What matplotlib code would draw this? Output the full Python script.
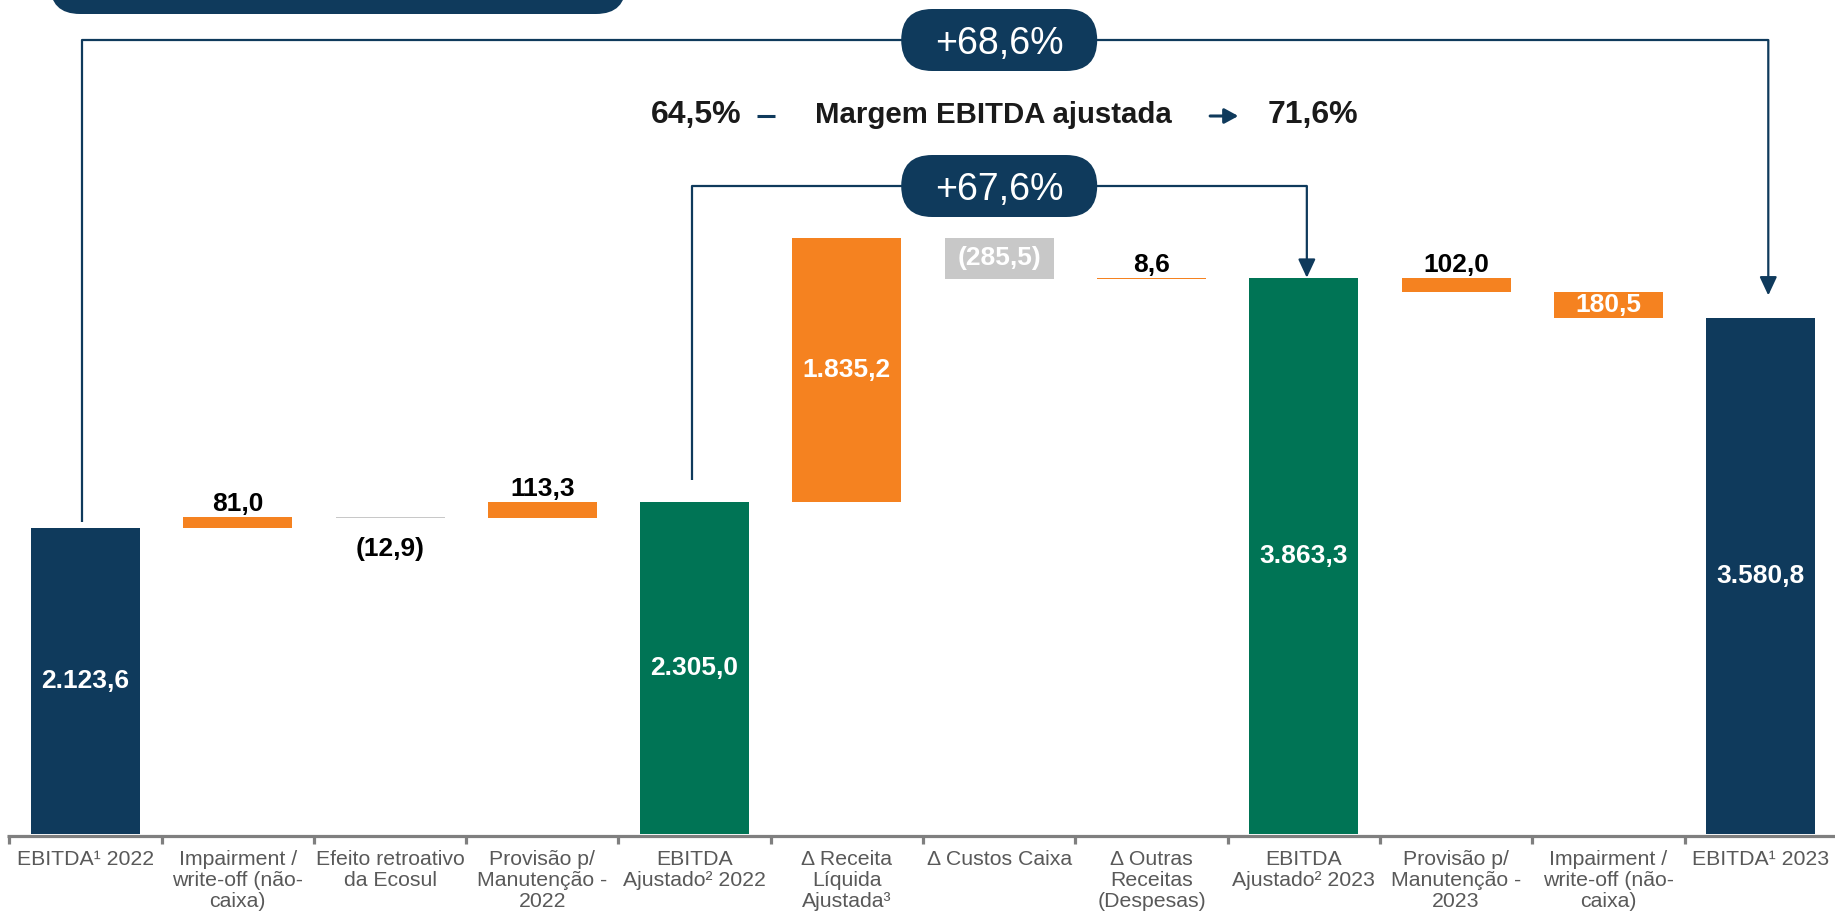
import matplotlib
matplotlib.use("Agg")
import matplotlib.pyplot as plt
from matplotlib.patches import FancyBboxPatch

plt.rcParams['font.family'] = ['Liberation Sans', 'DejaVu Sans']

# Ponte do EBITDA 2022 -> 2023 (R$ milhões)
categorias = [
    "EBITDA¹ 2022",
    "Impairment /\nwrite-off (não-\ncaixa)",
    "Efeito retroativo\nda Ecosul",
    "Provisão p/\nManutenção -\n2022",
    "EBITDA\nAjustado² 2022",
    "Δ Receita\nLíquida\nAjustada³",
    "Δ Custos Caixa",
    "Δ Outras\nReceitas\n(Despesas)",
    "EBITDA\nAjustado² 2023",
    "Provisão p/\nManutenção -\n2023",
    "Impairment /\nwrite-off (não-\ncaixa)",
    "EBITDA¹ 2023",
]
valores = [2123.6, 81.0, -12.9, 113.3, 2305.0, 1835.2, -285.5, 8.6, 3863.3, -102.0, -180.5, 3580.8]
total = [True, False, False, False, True, False, False, False, True, False, False, True]

variacao_total = "+68,6%"
variacao_ajustada = "+67,6%"
margem_2022 = "64,5%"
margem_2023 = "71,6%"

# estilo
AZUL = '#0f3a5c'
VERDE = '#007455'
LARANJA = '#f58220'
CINZA = '#c8c8c8'
cores = [AZUL, LARANJA, CINZA, LARANJA, VERDE, LARANJA, CINZA, LARANJA, VERDE, LARANJA, LARANJA, AZUL]
pos_rotulo = ['in', 'up', 'down', 'up', 'in', 'in', 'in', 'up', 'in', 'up', 'in', 'in']

W, H = 1835, 918
fig = plt.figure(figsize=(W / 100, H / 100), dpi=100)
ax = fig.add_axes([0, 0, 1, 1])
XMIN, XMAX = -0.561, 11.488
YMIN, YMAX = -583, 5792
ax.set_xlim(XMIN, XMAX)
ax.set_ylim(YMIN, YMAX)
ax.axis('off')

PX_X = (XMAX - XMIN) / W
PX_Y = (YMAX - YMIN) / H
ASP = PX_Y / PX_X


def fmt(v):
    s = f"{abs(v):,.1f}"
    return s.replace(",", "X").replace(".", ",").replace("X", ".")


# calcula base e altura de cada barra
bases, alturas = [], []
nivel = 0.0
for v, t in zip(valores, total):
    if t:
        bases.append(0)
        alturas.append(v)
        nivel = v
    else:
        bases.append(nivel if v >= 0 else nivel + v)
        alturas.append(abs(v))
        nivel += v

x = list(range(len(valores)))
ax.bar(x, alturas, bottom=bases, width=0.716, color=cores, zorder=2)

for i, v in enumerate(valores):
    txt = fmt(v)
    # itens antes do EBITDA ajustado 2023 mostram redução entre parênteses
    if v < 0 and i < 8:
        txt = f"({txt})"
    topo = bases[i] + alturas[i]
    if pos_rotulo[i] == 'in':
        ax.text(i, bases[i] + alturas[i] / 2, txt, ha='center', va='center',
                color='white', fontsize=19, fontweight='bold', zorder=3)
    elif pos_rotulo[i] == 'up':
        ax.text(i, topo + 6 * PX_Y, txt, ha='center', va='baseline',
                color='black', fontsize=19, fontweight='bold', zorder=3)
    else:
        ax.text(i, bases[i] - 19 * PX_Y, txt, ha='center', va='top',
                color='black', fontsize=19, fontweight='bold', zorder=3)

# eixo horizontal com marcas entre categorias
y_eixo = -1.5 * PX_Y
ax.hlines(y_eixo, -0.5 - 0.015, XMAX, color='#7f7f7f', lw=2.3, zorder=1)
for i in range(len(valores) + 1):
    ax.vlines(i - 0.5, y_eixo, y_eixo - 8 * PX_Y, color='#7f7f7f', lw=2.3)

for i, c in enumerate(categorias):
    ax.text(i, -16 * PX_Y, c, ha='center', va='top', color='#595959',
            fontsize=15.3, linespacing=1.13)


def colchete(x0, y0, x1, y1, y_top, rotulo):
    ax.plot([x0, x0, x1], [y0, y_top, y_top], color=AZUL, lw=1.6, zorder=1,
            solid_capstyle='butt')
    ax.annotate('', xy=(x1, y1), xytext=(x1, y_top),
                arrowprops=dict(arrowstyle='-|>,head_length=0.75,head_width=0.35',
                                mutation_scale=15, color=AZUL, lw=1.6,
                                shrinkA=0, shrinkB=0), zorder=1)
    bw, bh = 196 * PX_X, 62 * PX_Y
    ax.add_patch(FancyBboxPatch((6 - bw / 2, y_top - bh / 2), bw, bh,
                                boxstyle=f"round,pad=0,rounding_size={31 * PX_X}",
                                mutation_aspect=ASP, fc=AZUL, ec='none', zorder=4))
    ax.text(6, y_top, rotulo, ha='center', va='center_baseline', color='white',
            fontsize=27, zorder=5)


# EBITDA 2022 -> EBITDA 2023
colchete(-0.025, valores[0] + 6 * PX_Y, 11.05, valores[11] + 23 * PX_Y, YMAX - 40 * PX_Y,
         variacao_total)
# EBITDA ajustado 2022 -> 2023
colchete(4 - 0.02, valores[4] + 22 * PX_Y, 8.02, valores[8], YMAX - 186 * PX_Y,
         variacao_ajustada)

# margem EBITDA ajustada
y_m = YMAX - 123 * PX_Y
ax.text(4.311, y_m, margem_2022, ha='right', va='baseline', fontsize=23,
        fontweight='bold', color='#1a1a1a')
ax.hlines(YMAX - 116 * PX_Y, 4.41, 4.53, color=AZUL, lw=2.2)
ax.text(5.96, y_m, "Margem EBITDA ajustada", ha='center', va='baseline',
        fontsize=21.2, fontweight='bold', color='#1a1a1a')
ax.annotate('', xy=(7.57, YMAX - 116 * PX_Y), xytext=(7.385, YMAX - 116 * PX_Y),
            arrowprops=dict(arrowstyle='-|>,head_length=0.55,head_width=0.3',
                            mutation_scale=15, color=AZUL, lw=2.2,
                            shrinkA=0, shrinkB=0))
ax.text(7.764, y_m, margem_2023, ha='left', va='baseline', fontsize=23,
        fontweight='bold', color='#1a1a1a')

# caixa de título cortada no topo
ax.add_patch(FancyBboxPatch((XMIN + 50 * PX_X, YMAX - 14 * PX_Y), 576 * PX_X, 120 * PX_Y,
                            boxstyle=f"round,pad=0,rounding_size={30 * PX_X}",
                            mutation_aspect=ASP, fc=AZUL, ec='none', clip_on=True))

fig.savefig("out.png", dpi=100)
